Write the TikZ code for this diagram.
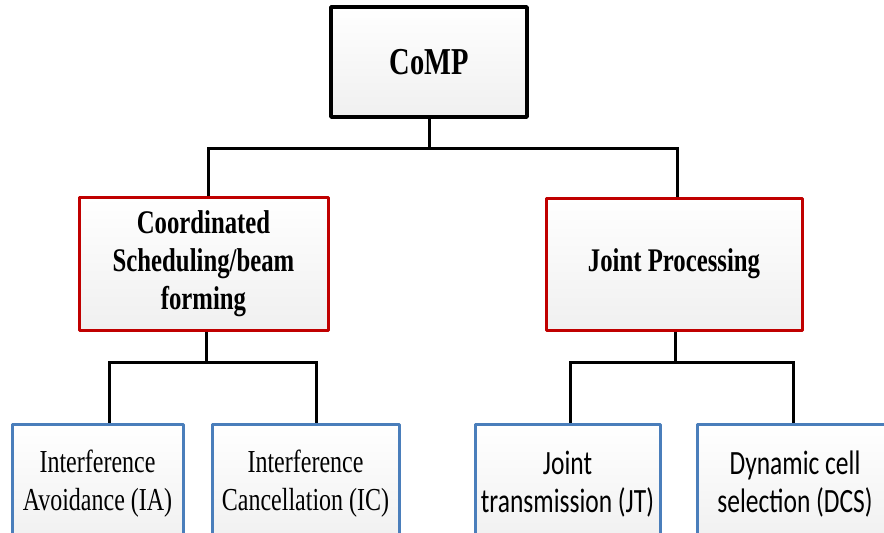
\documentclass[tikz,border=0pt]{standalone}
\usepackage{fontspec}
\setmainfont{Liberation Serif}
\newfontfamily\tnrfont[FakeStretch=0.75]{Liberation Serif}
\newfontfamily\calfont[FakeStretch=0.75]{Carlito}
\usetikzlibrary{calc}
\definecolor{boxred}{HTML}{C00000}
\definecolor{boxblue}{HTML}{4A7EBB}
\begin{document}
\begin{tikzpicture}[x=1pt,y=-1pt,
  box/.style={rectangle, top color=white, bottom color=gray!12, align=center,
    inner sep=2pt, line join=round},
  rootbox/.style={box, draw=black, line width=3.5pt, font=\tnrfont\bfseries\fontsize{38}{46}\selectfont},
  midbox/.style={box, draw=boxred, line width=3pt, font=\tnrfont\bfseries\fontsize{33}{38}\selectfont},
  leafbox/.style={box, draw=boxblue, line width=3pt},
  serifleaf/.style={leafbox, font=\tnrfont\fontsize{32}{38}\selectfont},
  sansleaf/.style={leafbox, font=\calfont\fontsize{34}{38}\selectfont},
  link/.style={draw=black, line width=3pt, line join=miter}]
\useasboundingbox (0,0) rectangle (884,533);
\clip (0,0) rectangle (884,533);
\fill[white] (0,0) rectangle (884,533);

% tree nodes
\node[rootbox, minimum width=196, minimum height=110] (comp) at (429,62) {CoMP};
\node[midbox, minimum width=249, minimum height=133] (csb) at (203.5,263.5)
  {Coordinated\\Scheduling/beam\\forming};
\node[midbox, minimum width=256, minimum height=132] (jp) at (674,264) {Joint Processing};
\node[serifleaf, minimum width=171, minimum height=120] (ia) at (97.5,484)
  {Interference\\Avoidance (IA)};
\node[serifleaf, minimum width=187, minimum height=120] (ic) at (305.5,484)
  {Interference\\Cancellation (IC)};
\node[sansleaf, minimum width=185, minimum height=120] (jt) at (567.5,484)
  {Joint\\transmission (JT)};
\node[sansleaf, minimum width=196, minimum height=120] (dcs) at (795,484)
  {Dynamic cell\\selection (DCS)};

% connectors
\draw[link] (comp.south) -- ++(0,30) coordinate (rootbus);
\draw[link] ([xshift=4.5pt]csb.north) |- (rootbus) -| ([xshift=3pt]jp.north);
\draw[link] ([xshift=2.5pt]csb.south) -- ++(0,31) coordinate (lbus);
\draw[link] ([xshift=11.5pt]ia.north) |- (lbus) -| ([xshift=10.5pt]ic.north);
\draw[link] ([xshift=1pt]jp.south) -- ++(0,31) coordinate (rbus);
\draw[link] ([xshift=2.5pt]jt.north) |- (rbus) -| ([xshift=-2pt]dcs.north);
\end{tikzpicture}
\end{document}
